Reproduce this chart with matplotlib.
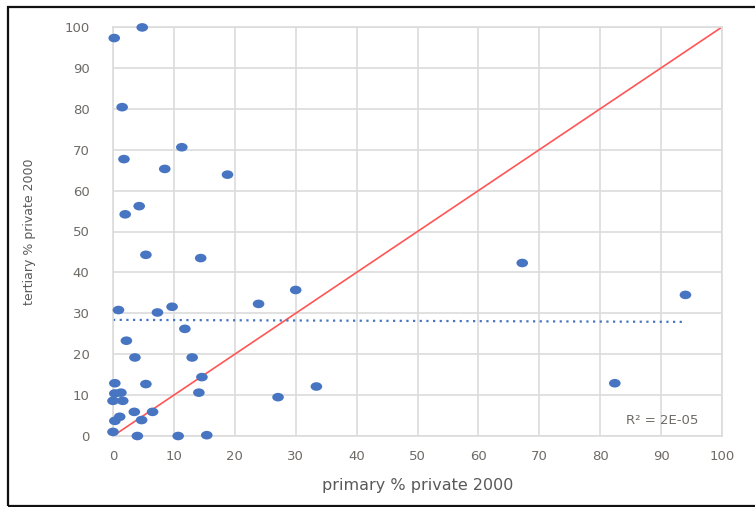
import matplotlib
matplotlib.use("Agg")
import matplotlib.pyplot as plt
import numpy as np
from matplotlib.patches import Rectangle
from matplotlib.path import Path

# share of enrolment in private institutions, 2000 (%)
primary_pct = [0.2, 4.8, 1.5, 1.8, 11.3, 8.5, 18.8, 2.0, 4.3, 5.4,
               14.4, 0.9, 7.3, 9.7, 23.9, 30.0, 11.8, 2.2, 3.6, 13.0,
               14.6, 5.4, 0.3, 14.1, 27.1, 33.4, 67.2, 82.4, 94.0, 0.3,
               1.3, 0.0, 1.6, 0.3, 1.1, 0.0, 3.5, 4.7, 6.5, 4.0,
               10.7, 15.4]
tertiary_pct = [97.3, 99.9, 80.4, 67.7, 70.6, 65.3, 63.9, 54.2, 56.2, 44.3,
                43.5, 30.8, 30.2, 31.6, 32.3, 35.7, 26.2, 23.3, 19.2, 19.2,
                14.4, 12.7, 12.9, 10.6, 9.5, 12.1, 42.3, 12.9, 34.5, 10.4,
                10.6, 8.6, 8.6, 3.7, 4.7, 1.0, 5.9, 3.9, 5.9, 0.0,
                0.0, 0.2]

# linear trend (intercept, slope) and its R²
trend_intercept = 28.4
trend_slope = -0.0053
r2_label = "R² = 2E-05"

axis_ticks = [0, 10, 20, 30, 40, 50, 60, 70, 80, 90, 100]

blue = "#4775C2"
grid_col = "#DCDCDC"
text_col = "#6E6A66"

# slightly flattened round marker
circ = Path.unit_circle()
oval = Path(circ.vertices * np.array([1.35, 1.0]), circ.codes)

fig = plt.figure(figsize=(7.55, 5.07), dpi=100)
ax = fig.add_axes([113 / 755, 71 / 507, 609 / 755, 409 / 507])

ax.set_xlim(0, 100)
ax.set_ylim(0, 100)
ax.set_xticks(axis_ticks)
ax.set_yticks(axis_ticks)
ax.grid(True, color=grid_col, linewidth=1.2)
ax.set_axisbelow(True)
for side, sp in ax.spines.items():
    sp.set_color(grid_col)
    sp.set_linewidth(1.2)
ax.tick_params(length=0, colors=text_col, labelsize=9.5)
ax.tick_params(axis="x", pad=10)
ax.tick_params(axis="y", pad=17)

# 45-degree reference line
ref = np.array([0, 100])
ax.plot(ref, ref, color="#FF5555", linewidth=1.2, zorder=2)

# fitted linear trend over the observed primary range
tx = np.array([0, max(primary_pct)])
ax.plot(tx, trend_intercept + trend_slope * tx, color=blue,
        linestyle=(0, (1, 2)), linewidth=1.6, zorder=2)

ax.scatter(primary_pct, tertiary_pct, s=70, marker=oval, color=blue,
           edgecolors="none", zorder=3, clip_on=False)

ax.text(96.1, 3.7, r2_label, ha="right", va="center", color=text_col,
        fontsize=9.5)

ax.set_xlabel("primary % private 2000", color="#595959", fontsize=11.5,
              labelpad=11)
ax.set_ylabel("tertiary % private 2000", color="#595959", fontsize=9,
              labelpad=20)

# outer frame
fig.patches.append(Rectangle((8 / 755, 1.5 / 507), 1.0, 499 / 507,
                             transform=fig.transFigure, fill=False,
                             edgecolor="#111111", linewidth=1.6,
                             clip_on=False))

fig.savefig("out.png", dpi=100)
